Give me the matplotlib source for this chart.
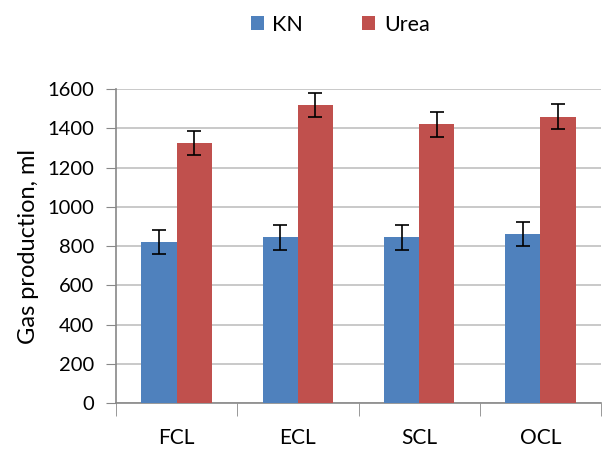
import matplotlib.pyplot as plt
import numpy as np

categories = ["FCL", "ECL", "SCL", "OCL"]
kn_values = [820, 845, 845, 860]
urea_values = [1325, 1520, 1420, 1460]
kn_err = [62, 63, 63, 62]
urea_err = [62, 62, 64, 64]

plt.rcParams["font.family"] = ["Lato", "DejaVu Sans"]

fig = plt.figure(figsize=(6.03, 4.5), dpi=100)
ax = fig.add_axes([0.1924, 0.1044, 0.8043, 0.6976])

x = np.arange(len(categories))
w = 0.29
err_kw = dict(ecolor="black", elinewidth=1.2, capsize=5, capthick=1.2)
ax.bar(x - w / 2, kn_values, w, yerr=kn_err, color="#4F81BD", label="KN",
       error_kw=err_kw, zorder=3)
ax.bar(x + w / 2, urea_values, w, yerr=urea_err, color="#C0504D", label="Urea",
       error_kw=err_kw, zorder=3)

ax.set_xlim(-0.5, len(categories) - 0.5)
ax.set_ylim(0, 1600)
ax.set_yticks(range(0, 1601, 200))
ax.set_xticks(x)
ax.set_xticklabels(categories)
ax.set_xticks(np.arange(-0.5, len(categories)), minor=True)
ax.tick_params(axis="x", which="major", length=0, pad=18, labelsize=15)
ax.tick_params(axis="x", which="minor", length=9, color="#888888", direction="out")
ax.tick_params(axis="y", length=7, color="#888888", labelsize=14.5, pad=9)
ax.set_ylabel("Gas production, ml", fontsize=17, labelpad=6)

ax.grid(axis="y", color="#c0c0c0", linewidth=1.2, zorder=0)
ax.set_axisbelow(True)
for s in ["top", "right"]:
    ax.spines[s].set_visible(False)
for s in ["left", "bottom"]:
    ax.spines[s].set_color("#888888")
    ax.spines[s].set_linewidth(1.2)

fig.legend(loc="center", bbox_to_anchor=(0.564, 0.945), ncol=2, frameon=False,
           fontsize=15.5, handlelength=0.6, handleheight=0.6, columnspacing=2.75,
           handletextpad=0.4)

fig.savefig("out.png", dpi=100)
